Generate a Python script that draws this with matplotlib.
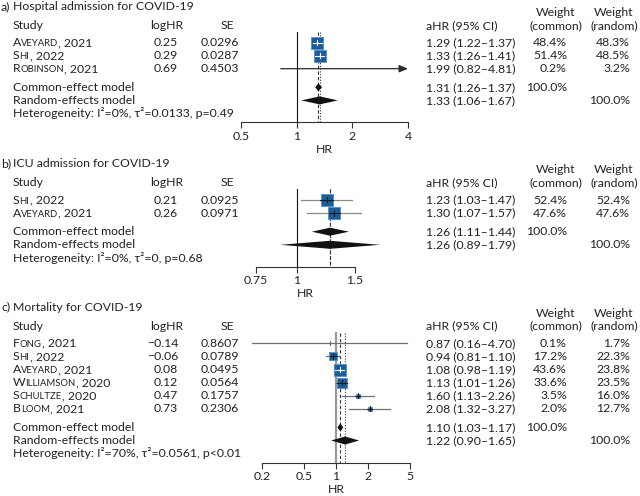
import numpy as np
import matplotlib
matplotlib.use('Agg')
import matplotlib.pyplot as plt
from matplotlib.ticker import NullLocator

FS = 8.8
plt.rcParams['font.family'] = ['Lato', 'DejaVu Sans']
plt.rcParams['font.size'] = FS

# a) hospital admission
title_a = 'Hospital admission for COVID-19'
authors_a = ['Aveyard', 'Shi', 'Robinson']
years_a = [2021, 2022, 2021]
loghr_a = [0.25, 0.29, 0.69]
se_a = [0.0296, 0.0287, 0.4503]
hr_a = [1.29, 1.33, 1.99]
lo_a = [1.22, 1.26, 0.82]
hi_a = [1.37, 1.41, 4.81]
wcom_a = [48.4, 51.4, 0.2]
wran_a = [48.3, 48.5, 3.2]
common_a = [1.31, 1.26, 1.37]
random_a = [1.33, 1.06, 1.67]
het_a = 'Heterogeneity: I²=0%, τ²=0.0133, p=0.49'
ticks_a = [0.5, 1, 2, 4]

# b) ICU admission
title_b = 'ICU admission for COVID-19'
authors_b = ['Shi', 'Aveyard']
years_b = [2022, 2021]
loghr_b = [0.21, 0.26]
se_b = [0.0925, 0.0971]
hr_b = [1.23, 1.30]
lo_b = [1.03, 1.07]
hi_b = [1.47, 1.57]
wcom_b = [52.4, 47.6]
wran_b = [52.4, 47.6]
common_b = [1.26, 1.11, 1.44]
random_b = [1.26, 0.89, 1.79]
het_b = 'Heterogeneity: I²=0%, τ²=0, p=0.68'
ticks_b = [0.75, 1, 1.5]

# c) mortality
title_c = 'Mortality for COVID-19'
authors_c = ['Fong', 'Shi', 'Aveyard', 'Williamson', 'Schultze', 'Bloom']
years_c = [2021, 2022, 2021, 2020, 2020, 2021]
loghr_c = [-0.14, -0.06, 0.08, 0.12, 0.47, 0.73]
se_c = [0.8607, 0.0789, 0.0495, 0.0564, 0.1757, 0.2306]
hr_c = [0.87, 0.94, 1.08, 1.13, 1.60, 2.08]
lo_c = [0.16, 0.81, 0.98, 1.01, 1.13, 1.32]
hi_c = [4.70, 1.10, 1.19, 1.26, 2.26, 3.27]
wcom_c = [0.1, 17.2, 43.6, 33.6, 3.5, 2.0]
wran_c = [1.7, 22.3, 23.8, 23.5, 16.0, 12.7]
common_c = [1.10, 1.03, 1.17]
random_c = [1.22, 0.90, 1.65]
het_c = 'Heterogeneity: I²=70%, τ²=0.0561, p<0.01'
ticks_c = [0.2, 0.5, 1, 2, 5]

W, H = 640, 496
ROW = 13.1
FL, FR = 230, 420
BASE = 3.6  # baseline offset below row centre, px
TXT = '#222222'
BOX = '#1c5d99'
BOX_EDGE = '#5b93c9'

panels = [
    dict(tag='a)', title=title_a, au=authors_a, yr=years_a, lg=loghr_a, se=se_a,
         hr=hr_a, lo=lo_a, hi=hi_a, wc=wcom_a, wr=wran_a, com=common_a, ran=random_a,
         het=het_a, ticks=ticks_a, y0=42.5, xlim=(0.436, 4.64), clip=4,
         ci_col='#2a2a2a', null_col='#111111', null_lw=0.8),
    dict(tag='b)', title=title_b, au=authors_b, yr=years_b, lg=loghr_b, se=se_b,
         hr=hr_b, lo=lo_b, hi=hi_b, wc=wcom_b, wr=wran_b, com=common_b, ran=random_b,
         het=het_b, ticks=ticks_b, y0=200, xlim=(0.625, 2.37), clip=None,
         ci_col='#8a8a8a', null_col='#111111', null_lw=0.8),
    dict(tag='c)', title=title_c, au=authors_c, yr=years_c, lg=loghr_c, se=se_c,
         hr=hr_c, lo=lo_c, hi=hi_c, wc=wcom_c, wr=wran_c, com=common_c, ran=random_c,
         het=het_c, ticks=ticks_c, y0=343.3, xlim=(0.0998, 6.21), clip=None,
         ci_col='#707070', null_col='#999999', null_lw=1.6),
]

fig = plt.figure(figsize=(6.4, 4.96), dpi=100)
txt = fig.add_axes([0, 0, 1, 1])
txt.set_xlim(0, W)
txt.set_ylim(H, 0)
txt.axis('off')
txt.patch.set_visible(False)


def put(x, y, s, ha='left', **kw):
    return txt.text(x, y + BASE, s, ha=ha, va='baseline', color=TXT, **kw)


def study_label(x, y, name, year):
    t = put(x, y, name[0])
    t2 = txt.annotate(name[1:].upper(), xy=(1, 0), xycoords=t, ha='left', va='bottom',
                      fontsize=FS * 0.78, color=TXT)
    txt.annotate(f', {year}', xy=(1, 0), xycoords=t2, ha='left', va='bottom', color=TXT)


def ci_text(e, l, h):
    return f'{e:.2f} ({l:.2f}–{h:.2f})'


for p in panels:
    n = len(p['au'])
    y0 = p['y0']
    rows = y0 + ROW * np.arange(n)
    y_com = rows[-1] + ROW + 5.5
    y_ran = y_com + ROW
    y_het = y_ran + ROW
    y_axis = y_ran + 22
    y_head = y0 - 17.3
    y_title = y_head - 19
    top = y0 - 14
    line_top = y0 - 10.5

    # text columns
    put(1, y_title, p['tag'])
    put(13, y_title, p['title'])
    put(13, y_head, 'Study')
    put(167, y_head, 'logHR', ha='center')
    put(227, y_head, 'SE', ha='center')
    put(426, y_head, 'aHR (95% CI)')
    put(556, y_head - 13, 'Weight', ha='center')
    put(556, y_head, '(common)', ha='center')
    put(614, y_head - 13, 'Weight', ha='center')
    put(614, y_head, '(random)', ha='center')
    for i in range(n):
        y = rows[i]
        study_label(13, y, p['au'][i], p['yr'][i])
        put(178, y, f"{p['lg'][i]:.2f}".replace('-', '−'), ha='right')
        put(239, y, f"{p['se'][i]:.4f}", ha='right')
        put(426, y, ci_text(p['hr'][i], p['lo'][i], p['hi'][i]))
        put(567, y, f"{p['wc'][i]:.1f}%", ha='right')
        put(630, y, f"{p['wr'][i]:.1f}%", ha='right')
    put(13, y_com, 'Common-effect model')
    put(426, y_com, ci_text(*p['com']))
    put(567, y_com, '100.0%', ha='right')
    put(13, y_ran, 'Random-effects model')
    put(426, y_ran, ci_text(*p['ran']))
    put(630, y_ran, '100.0%', ha='right')
    put(13, y_het, p['het'])

    # forest
    ax = fig.add_axes([FL / W, 1 - y_axis / H, (FR - FL) / W, (y_axis - top) / H])
    ax.patch.set_visible(False)
    ax.set_xscale('log')
    ax.set_xlim(*p['xlim'])
    ax.set_ylim(y_axis, top)
    k = (FR - FL) / np.log(p['xlim'][1] / p['xlim'][0])

    ax.plot([1, 1], [line_top, y_axis], color=p['null_col'], lw=p['null_lw'], zorder=1)
    ax.plot([p['com'][0]] * 2, [line_top, y_axis], color='#333333', lw=0.8,
            ls=(0, (3, 2)), zorder=1)
    ax.plot([p['ran'][0]] * 2, [line_top, y_axis], color='#333333', lw=0.8,
            ls=(0, (1, 1.5)), zorder=1)

    for i in range(n):
        y = rows[i]
        est, lo, hi, w = p['hr'][i], p['lo'][i], p['hi'][i], p['wc'][i]
        clipped = p['clip'] is not None and hi > p['clip']
        if clipped:
            ax.annotate('', xy=(p['clip'], y), xytext=(lo, y),
                        arrowprops=dict(arrowstyle='-|>,head_length=0.6,head_width=0.25',
                                        color=p['ci_col'], lw=0.9, shrinkA=0, shrinkB=0),
                        zorder=2)
        else:
            ax.plot([lo, hi], [y, y], color=p['ci_col'], lw=0.9, zorder=2)
        if w >= 1:
            size = max(1.7 * np.sqrt(w), 4.5)
            half = size / 2
            ax.plot(est, y, marker='s', ms=size * 0.72, mfc=BOX, mec=BOX_EDGE,
                    mew=0.7, zorder=3)
            b_lo = est * np.exp(-half / k)
            b_hi = est * np.exp(half / k)
            col_in = 'white' if (lo >= b_lo and hi <= b_hi) else '#1a1a1a'
            ax.plot([max(lo, b_lo), min(hi, b_hi)], [y, y], color=col_in, lw=0.8, zorder=4)
            ax.plot([est, est], [y - 2.5, y + 2.5], color=col_in, lw=0.8, zorder=4)
        elif not clipped:
            ax.plot([est, est], [y - 2, y + 2], color=p['ci_col'], lw=0.8, zorder=4)

    for (e, l, h), y in ((p['com'], y_com), (p['ran'], y_ran)):
        ax.fill([l, e, h, e], [y, y - 4, y, y + 4], color='#111111', lw=0, zorder=3)

    for s in ('left', 'right', 'top'):
        ax.spines[s].set_visible(False)
    ax.spines['bottom'].set_bounds(p['ticks'][0], p['ticks'][-1])
    ax.spines['bottom'].set_color('#333333')
    ax.spines['bottom'].set_linewidth(0.8)
    ax.set_xticks(p['ticks'])
    ax.set_xticklabels([f'{t:g}' for t in p['ticks']])
    ax.xaxis.set_minor_locator(NullLocator())
    ax.tick_params(axis='x', length=4, width=0.8, color='#333333', labelsize=FS,
                   labelcolor=TXT, pad=2)
    ax.set_yticks([])
    hr_x = np.sqrt(p['ticks'][0] * p['ticks'][-1])
    ax.text(hr_x, y_axis + 27 + BASE, 'HR', ha='center', va='baseline', color=TXT,
            clip_on=False)

fig.savefig('out.png', dpi=100)
